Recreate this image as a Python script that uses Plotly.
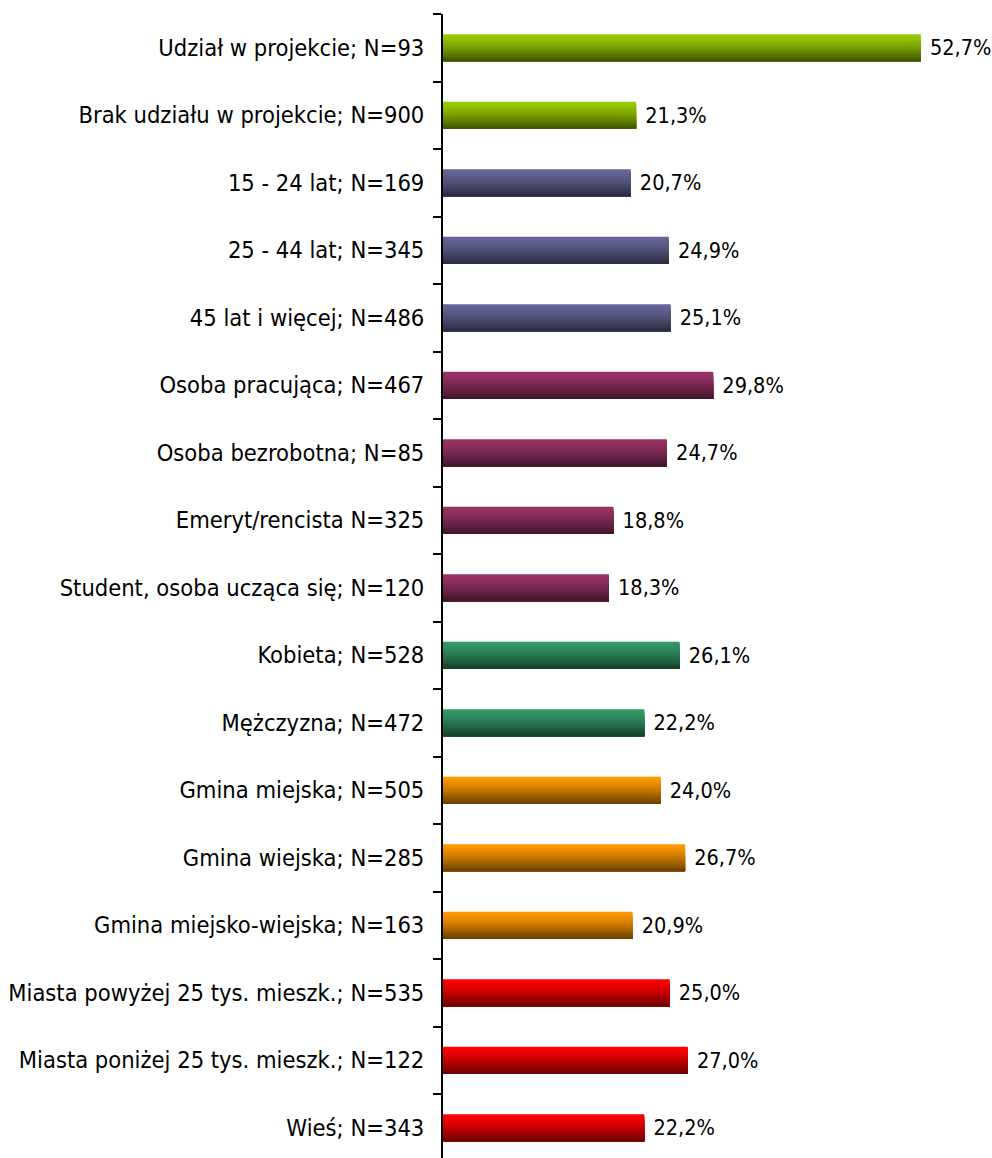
import plotly.graph_objects as go

# Survey groups, top to bottom
categories = [
    "Udział w projekcie; N=93",
    "Brak udziału w projekcie; N=900",
    "15 - 24 lat; N=169",
    "25 - 44 lat; N=345",
    "45 lat i więcej; N=486",
    "Osoba pracująca; N=467",
    "Osoba bezrobotna; N=85",
    "Emeryt/rencista N=325",
    "Student, osoba ucząca się; N=120",
    "Kobieta; N=528",
    "Mężczyzna; N=472",
    "Gmina miejska; N=505",
    "Gmina wiejska; N=285",
    "Gmina miejsko-wiejska; N=163",
    "Miasta powyżej 25 tys. mieszk.; N=535",
    "Miasta poniżej 25 tys. mieszk.; N=122",
    "Wieś; N=343",
]
values = [52.7, 21.3, 20.7, 24.9, 25.1, 29.8, 24.7, 18.8, 18.3,
          26.1, 22.2, 24.0, 26.7, 20.9, 25.0, 27.0, 22.2]
groups = ["projekt"] * 2 + ["wiek"] * 3 + ["status"] * 4 + ["plec"] * 2 + \
         ["gmina"] * 3 + ["miejsce"] * 3

# (top colour, bottom colour) of the vertical gradient for each group
group_colors = {
    "projekt": ((153, 204, 0), (66, 88, 0)),
    "wiek": ((102, 102, 153), (44, 44, 66)),
    "status": ((153, 51, 102), (66, 22, 44)),
    "plec": ((51, 153, 102), (22, 66, 44)),
    "gmina": ((255, 153, 0), (110, 66, 0)),
    "miejsce": ((255, 0, 0), (110, 0, 0)),
}

BAR_W = 0.4
N_STRIPES = 18
FONT = "DejaVu Sans Condensed, DejaVu Sans"


def mix(c1, c2, t):
    return "rgb({},{},{})".format(*[round(a + (b - a) * t) for a, b in zip(c1, c2)])


fig = go.Figure()

# Each bar is layered from top to bottom: every layer starts a bit lower and
# reaches the bar's bottom edge, giving a seamless vertical gradient
step = BAR_W / N_STRIPES
for k in range(N_STRIPES):
    t = k / (N_STRIPES - 1)
    tt = t ** 1.3
    cols = [mix(group_colors[g][0], group_colors[g][1], tt) for g in groups]
    fig.add_trace(go.Bar(
        y=categories,
        x=values,
        orientation="h",
        width=BAR_W - k * step,
        offset=-BAR_W / 2 + k * step,
        marker=dict(color=cols, line=dict(width=0)),
        hoverinfo="skip",
        showlegend=False,
    ))

# Value labels
fig.add_trace(go.Bar(
    y=categories,
    x=values,
    orientation="h",
    width=BAR_W,
    marker=dict(color="rgba(0,0,0,0)", line=dict(width=0)),
    text=[" " + f"{v:.1f}".replace(".", ",") + "%" for v in values],
    textposition="outside",
    constraintext="none",
    cliponaxis=False,
    textfont=dict(family=FONT, size=21.5, color="black"),
    showlegend=False,
))

fig.update_layout(
    width=992,
    height=1158,
    margin=dict(l=443, r=5, t=14, b=0),
    barmode="overlay",
    plot_bgcolor="white",
    paper_bgcolor="white",
    font=dict(family=FONT, size=23.5, color="black"),
    xaxis=dict(range=[0, 60], visible=False, fixedrange=True),
    yaxis=dict(
        type="category",
        categoryorder="array",
        categoryarray=categories,
        range=[16.448, -0.5],
        showline=True,
        linecolor="black",
        linewidth=2,
        ticks="outside",
        tickson="boundaries",
        ticklen=8,
        tickwidth=2,
        tickcolor="black",
        ticklabelstandoff=12,
        showgrid=False,
        zeroline=False,
    ),
)

fig.write_html("out.html")
